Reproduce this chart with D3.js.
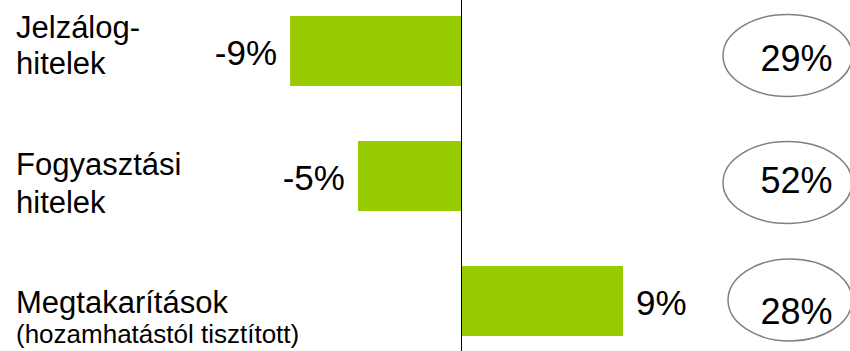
<!DOCTYPE html>
<html>
<head>
<meta charset="utf-8">
<script src="https://cdn.jsdelivr.net/npm/d3@7/dist/d3.min.js"></script>
<style>
  html, body { margin: 0; padding: 0; background: #fff; }
  svg { display: block; font-family: Arial, "Liberation Sans", sans-serif; }
</style>
</head>
<body>
<svg id="chart" width="850" height="351"></svg>
<script>
// ---- data ----
const categories = ["Jelzálog-hitelek", "Fogyasztási hitelek", "Megtakarítások"];
const categoryLines = [
  ["Jelzálog-", "hitelek"],
  ["Fogyasztási", "hitelek"],
  ["Megtakarítások", "(hozamhatástól tisztított)"]
];
const changeValues = [-9.24, -5.57, 8.76];
const changeLabels = ["-9%", "-5%", "9%"];
const shareLabels = ["29%", "52%", "28%"];

// ---- layout ----
const W = 850, H = 351;
const svg = d3.select("#chart");

const x = d3.scaleLinear().domain([-10, 10]).range([276, 646]);
const y = d3.scaleBand().domain(categories).range([-11.5, 363.5])
  .paddingInner(0.44).paddingOuter(0.22);

const green = "#99CC00";
const rows = categories.map((c, i) => ({
  cat: c, v: changeValues[i], lab: changeLabels[i], share: shareLabels[i], lines: categoryLines[i], i
}));

// bars
svg.append("g").selectAll("rect").data(rows).join("rect")
  .attr("x", d => Math.min(x(0), x(d.v)))
  .attr("y", d => y(d.cat))
  .attr("width", d => Math.abs(x(d.v) - x(0)))
  .attr("height", y.bandwidth())
  .attr("fill", green);

// zero axis line
svg.append("line")
  .attr("x1", Math.round(x(0)) + 0.5).attr("x2", Math.round(x(0)) + 0.5)
  .attr("y1", 0).attr("y2", H)
  .attr("stroke", "#000").attr("stroke-width", 1);

// value labels
svg.append("g").selectAll("text").data(rows).join("text")
  .attr("x", d => d.v < 0 ? x(d.v) - 13 : x(d.v) + 13)
  .attr("y", d => y(d.cat) + y.bandwidth() / 2 + 14)
  .attr("text-anchor", d => d.v < 0 ? "end" : "start")
  .attr("font-size", 35)
  .attr("fill", "#000")
  .text(d => d.lab);

// category labels (two lines each, hand-placed offsets relative to bar centre)
const lineOffsets = [[-13, 23], [-1, 37], [12, 42]];
const lineSizes = [[31, 31], [31, 31], [31, 26]];
rows.forEach(d => {
  const cy = y(d.cat) + y.bandwidth() / 2;
  d.lines.forEach((t, j) => {
    svg.append("text")
      .attr("x", 16)
      .attr("y", cy + lineOffsets[d.i][j])
      .attr("font-size", lineSizes[d.i][j])
      .attr("fill", "#000")
      .text(t);
  });
});

// share ellipses
const ellDy = [4.5, 6.5, -1];
const ellRx = [64.5, 64.5, 62];
const txtDy = [20, 17, 23];
const eg = svg.append("g").selectAll("g").data(rows).join("g");
eg.append("ellipse")
  .attr("cx", d => 852 - ellRx[d.i])
  .attr("cy", d => y(d.cat) + y.bandwidth() / 2 + ellDy[d.i])
  .attr("rx", d => ellRx[d.i])
  .attr("ry", 41)
  .attr("fill", "none")
  .attr("stroke", "#808080")
  .attr("stroke-width", 1.5);
eg.append("text")
  .attr("x", 796.5)
  .attr("y", d => y(d.cat) + y.bandwidth() / 2 + txtDy[d.i])
  .attr("text-anchor", "middle")
  .attr("font-size", 36)
  .attr("fill", "#000")
  .text(d => d.share);
</script>
</body>
</html>
